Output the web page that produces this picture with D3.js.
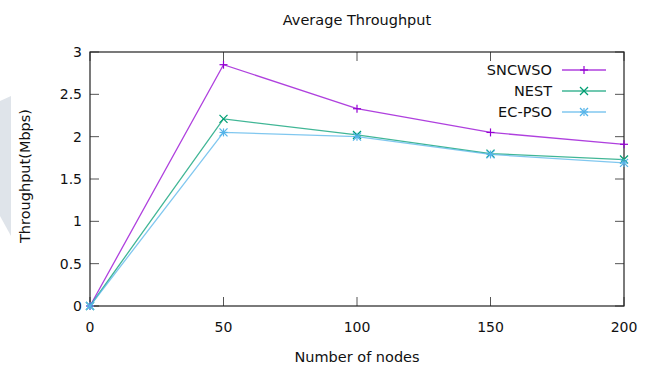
<!DOCTYPE html>
<html>
<head>
<meta charset="utf-8">
<script src="https://cdn.jsdelivr.net/npm/d3@7"></script>
<style>
  body { margin: 0; background: #fff; }
  svg { display: block; font-family: "DejaVu Sans", Verdana, sans-serif; }
</style>
</head>
<body>
<svg id="chart" width="656" height="368"></svg>
<script>
// Data
const nodeCounts = [0, 50, 100, 150, 200];
const sncwso = [0, 2.85, 2.33, 2.05, 1.91];
const nest = [0, 2.21, 2.02, 1.8, 1.73];
const ecpso = [0, 2.05, 2.0, 1.79, 1.69];
const xTicks = [0, 50, 100, 150, 200];
const yTicks = [0, 0.5, 1, 1.5, 2, 2.5, 3];

const series = [
  { name: "SNCWSO", values: sncwso, color: "#9400d3", mark: "plus" },
  { name: "NEST", values: nest, color: "#009e73", mark: "cross" },
  { name: "EC-PSO", values: ecpso, color: "#56b4e9", mark: "star" }
];

const svg = d3.select("#chart");
const m = { left: 90, right: 624, top: 52, bottom: 306 };

const x = d3.scaleLinear().domain([0, 200]).range([m.left, m.right]);
const y = d3.scaleLinear().domain([0, 3]).range([m.bottom, m.top]);

// Watermark shape at left edge
svg.append("path")
  .attr("d", "M0,101 L11,96 L11,236 L0,216 Z")
  .attr("fill", "#dfe4ea");

// Ticks (inward, mirrored on all sides)
const tickLen = 9;
const tickColor = "#555";
xTicks.forEach(t => {
  svg.append("line").attr("x1", x(t)).attr("x2", x(t))
    .attr("y1", m.bottom).attr("y2", m.bottom - tickLen).attr("stroke", tickColor);
  svg.append("line").attr("x1", x(t)).attr("x2", x(t))
    .attr("y1", m.top).attr("y2", m.top + tickLen).attr("stroke", tickColor);
  svg.append("text").attr("x", x(t)).attr("y", m.bottom + 26)
    .attr("text-anchor", "middle").attr("font-size", 14).attr("fill", "#111").text(t);
});
yTicks.forEach(t => {
  svg.append("line").attr("x1", m.left).attr("x2", m.left + tickLen)
    .attr("y1", y(t)).attr("y2", y(t)).attr("stroke", tickColor);
  svg.append("line").attr("x1", m.right).attr("x2", m.right - tickLen)
    .attr("y1", y(t)).attr("y2", y(t)).attr("stroke", tickColor);
  svg.append("text").attr("x", m.left - 8).attr("y", y(t)).attr("dy", "0.35em")
    .attr("text-anchor", "end").attr("font-size", 14).attr("fill", "#111").text(t);
});

// Border
svg.append("rect")
  .attr("x", m.left).attr("y", m.top)
  .attr("width", m.right - m.left).attr("height", m.bottom - m.top)
  .attr("fill", "none").attr("stroke", "#222").attr("stroke-width", 1.2);

// Markers
function drawMark(g, cx, cy, type, color) {
  const s = 4;
  const add = (x1, y1, x2, y2) => g.append("line")
    .attr("x1", cx + x1).attr("y1", cy + y1).attr("x2", cx + x2).attr("y2", cy + y2)
    .attr("stroke", color).attr("stroke-width", 1.2);
  if (type === "plus" || type === "star") { add(-s, 0, s, 0); add(0, -s, 0, s); }
  if (type === "cross" || type === "star") { add(-s, -s, s, s); add(-s, s, s, -s); }
}

const line = d3.line().x((d, i) => x(nodeCounts[i])).y(d => y(d));

series.forEach(s => {
  svg.append("path").datum(s.values)
    .attr("d", line)
    .attr("fill", "none").attr("stroke", s.color).attr("stroke-width", 1.3)
    .attr("stroke-opacity", 0.75);
  const g = svg.append("g");
  s.values.forEach((v, i) => drawMark(g, x(nodeCounts[i]), y(v), s.mark, s.color));
});

// Legend
series.forEach((s, i) => {
  const ly = 70 + i * 21;
  svg.append("text").attr("x", 552).attr("y", ly).attr("dy", "0.35em")
    .attr("text-anchor", "end").attr("font-size", 14.5).attr("fill", "#111").text(s.name);
  svg.append("line").attr("x1", 562).attr("x2", 606).attr("y1", ly).attr("y2", ly)
    .attr("stroke", s.color).attr("stroke-width", 1.3).attr("stroke-opacity", 0.75);
  drawMark(svg.append("g"), 584, ly, s.mark, s.color);
});

// Title and axis labels
svg.append("text").attr("x", 357).attr("y", 25).attr("text-anchor", "middle")
  .attr("font-size", 14.5).attr("fill", "#111").text("Average Throughput");
svg.append("text").attr("x", 357).attr("y", 362).attr("text-anchor", "middle")
  .attr("font-size", 14.5).attr("fill", "#111").text("Number of nodes");
svg.append("text").attr("transform", "translate(30,176) rotate(-90)")
  .attr("text-anchor", "middle").attr("font-size", 14.5).attr("fill", "#111")
  .text("Throughput(Mbps)");
</script>
</body>
</html>
